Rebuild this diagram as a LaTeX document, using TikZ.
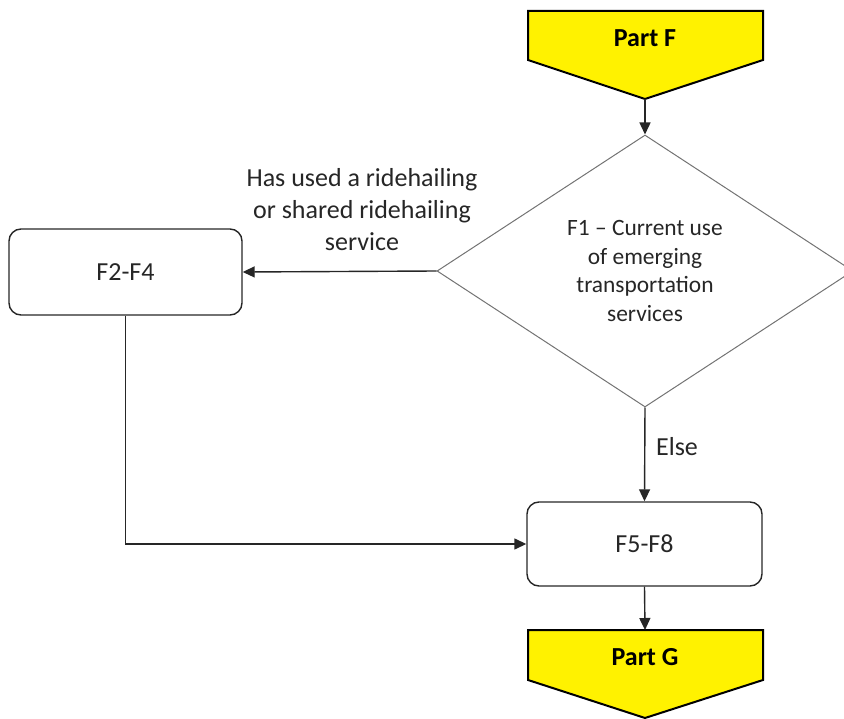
\documentclass[tikz,border=0pt]{standalone}
\usepackage{fontspec}
\setmainfont{Carlito}
\usetikzlibrary{shapes.geometric,arrows.meta}

\begin{document}
\begin{tikzpicture}[x=1pt,y=-1pt,
  every node/.style={font=\fontsize{26}{32}\selectfont, text=black!85},
  conn/.style={draw=black!85, line width=1.4pt, -{Triangle[length=12pt,width=11pt]}},
  stepbox/.style={draw=black!85, line width=1.4pt, rounded corners=12pt,
    inner sep=0pt},
  decision/.style={diamond, draw=black!55, line width=1pt, aspect=1.53,
    minimum width=416pt, minimum height=272pt, inner sep=0pt, align=center,
    font=\fontsize{23.4}{28.5}\selectfont},
  offpage/.style={fill=yellow, draw=black, line width=2pt, line join=miter},
  partlabel/.style={font=\fontsize{26}{30}\selectfont\bfseries, text=black},
  ]
\useasboundingbox (0,0) rectangle (844,719);

% off-page connector: Part F
\path[offpage] (528,11) -- (763,11) -- (763,60) -- (645,99) -- (528,60) -- cycle;
\node[partlabel] (pf) at (645,38) {Part F};
\coordinate (pftip) at (645,99);

% decision
\node[decision] (f1) at (645,271) {F1 -- Current use\\of emerging\\transportation\\services};

% process boxes
\node[stepbox, minimum width=233pt, minimum height=86pt] (f24) at (125.5,272) {F2-F4};
\node[stepbox, minimum width=235pt, minimum height=84pt] (f58) at (644.5,544) {F5-F8};

% off-page connector: Part G
\path[offpage] (528,630) -- (763,630) -- (763,680) -- (645,718) -- (528,680) -- cycle;
\node[partlabel] (pg) at (645,657) {Part G};
\coordinate (pgtop) at (645,630);

% connectors
\draw[conn] (pftip) -- (f1.north);
\draw[conn] (f1.west) -- (f24.east);
\draw[conn] (f1.south) -- (f58.north);
\draw[conn] (f24.south) |- (f58.west);
\draw[conn] (f58.south) -- (pgtop);

% connector labels
\node[align=center] (yes) at (362,210) {Has used a ridehailing\\or shared ridehailing\\service};
\node (else) at (677,447) {Else};
\end{tikzpicture}
\end{document}
